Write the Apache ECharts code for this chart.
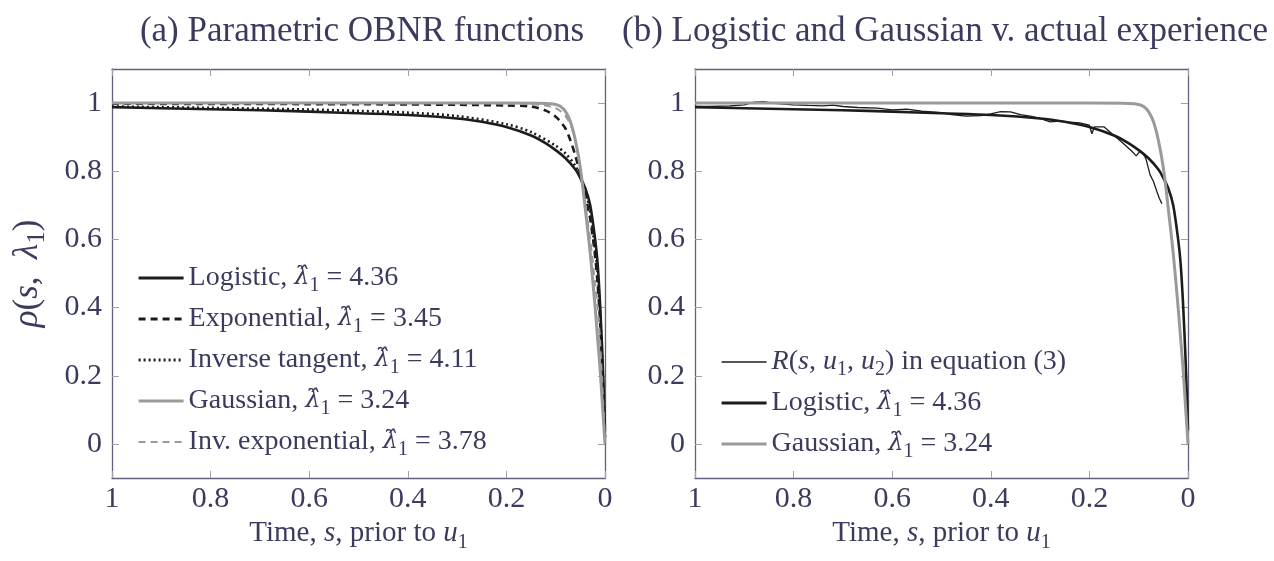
<!DOCTYPE html>
<html>
<head>
<meta charset="utf-8">
<script src="https://cdn.jsdelivr.net/npm/echarts@6/dist/echarts.min.js"></script>
<style>html,body{margin:0;padding:0;background:#fff}#c{width:1274px;height:561px}</style>
</head>
<body>
<div id="c"></div>
<script>
// ---- data: [s, rho] pairs ----
const logistic = [[1,0.988],[0.9,0.985],[0.8,0.982],[0.7,0.979],[0.6,0.975],[0.5,0.97],[0.4,0.965],[0.3,0.955],[0.25,0.945],[0.2,0.93],[0.15,0.905],[0.12,0.882],[0.1,0.862],[0.08,0.838],[0.06,0.805],[0.05,0.78],[0.04,0.75],[0.03,0.70],[0.02,0.60],[0.015,0.53],[0.01,0.41],[0.005,0.25],[0,0.04]];
const exponential = [[1,0.998],[0.6,0.997],[0.4,0.996],[0.3,0.995],[0.2,0.993],[0.15,0.99],[0.12,0.978],[0.1,0.96],[0.09,0.945],[0.08,0.925],[0.07,0.89],[0.06,0.845],[0.05,0.79],[0.04,0.73],[0.03,0.66],[0.02,0.55],[0.015,0.47],[0.01,0.36],[0.005,0.2],[0,0.01]];
const invTangent = [[1,0.99],[0.8,0.986],[0.6,0.981],[0.5,0.977],[0.4,0.972],[0.3,0.962],[0.2,0.938],[0.15,0.915],[0.1,0.875],[0.08,0.852],[0.06,0.815],[0.05,0.785],[0.04,0.745],[0.03,0.68],[0.02,0.57],[0.015,0.5],[0.01,0.38],[0.005,0.22],[0,0.02]];
const gaussian = [[1,1.0],[0.2,1.0],[0.12,0.999],[0.1,0.996],[0.09,0.99],[0.08,0.975],[0.07,0.945],[0.06,0.89],[0.05,0.81],[0.04,0.69],[0.03,0.56],[0.02,0.40],[0.015,0.31],[0.01,0.22],[0.005,0.11],[0,0]];
const invExponential = [[1,1.0],[0.3,1.0],[0.2,0.999],[0.15,0.997],[0.12,0.993],[0.1,0.985],[0.09,0.976],[0.08,0.962],[0.07,0.937],[0.06,0.89],[0.05,0.81],[0.04,0.70],[0.03,0.6],[0.02,0.47],[0.015,0.4],[0.01,0.3],[0.005,0.16],[0,0.01]];
const empirical = [[1,0.99],[0.97,0.99],[0.93,0.992],[0.9,0.995],[0.88,1.003],[0.86,1.004],[0.84,0.999],[0.8,0.995],[0.77,0.993],[0.74,0.992],[0.72,0.994],[0.7,0.99],[0.67,0.987],[0.63,0.985],[0.6,0.98],[0.57,0.982],[0.54,0.976],[0.5,0.972],[0.48,0.966],[0.45,0.962],[0.42,0.963],[0.4,0.968],[0.38,0.975],[0.36,0.974],[0.34,0.966],[0.32,0.962],[0.3,0.955],[0.28,0.945],[0.26,0.947],[0.24,0.944],[0.22,0.942],[0.2,0.935],[0.195,0.91],[0.19,0.93],[0.17,0.93],[0.15,0.905],[0.13,0.88],[0.115,0.86],[0.105,0.845],[0.097,0.86],[0.09,0.85],[0.085,0.835],[0.077,0.79],[0.07,0.77],[0.063,0.74],[0.058,0.72],[0.053,0.705]];
const yTicks = [0, 0.2, 0.4, 0.6, 0.8, 1];
const titles = ['(a) Parametric OBNR functions', '(b) Logistic and Gaussian v. actual experience'];

const FONT = "'Liberation Serif','DejaVu Serif',serif";
const TXT = '#3b3b5e';
const AX = '#60607f';
const TICK = '#a0a0a8';
const BLACK = '#1c1c1c';
const GRAY = '#9a9a9a';

const mathRich = (fs, lh) => ({
  t: {fontFamily: FONT, fontSize: fs, color: TXT, lineHeight: lh},
  i: {fontFamily: FONT, fontSize: fs, color: TXT, fontStyle: 'italic', lineHeight: lh},
  h: {fontFamily: "'DejaVu Serif'", fontSize: Math.round(fs * 0.85), color: TXT, fontStyle: 'italic', lineHeight: lh},
  s: {fontFamily: FONT, fontSize: Math.round(fs * 0.7), color: TXT, lineHeight: 3, verticalAlign: 'bottom'}
});

const legendLabels = {
  L: '{t|Logistic, }{h|λ̂}{s|1}{t| = 4.36}',
  E: '{t|Exponential, }{h|λ̂}{s|1}{t| = 3.45}',
  I: '{t|Inverse tangent, }{h|λ̂}{s|1}{t| = 4.11}',
  G: '{t|Gaussian, }{h|λ̂}{s|1}{t| = 3.24}',
  V: '{t|Inv. exponential, }{h|λ̂}{s|1}{t| = 3.78}',
  R: '{i|R}{t|(}{i|s}{t|, }{i|u}{s|1}{t|, }{i|u}{s|2}{t|) in equation (3)}',
  L2: '{t|Logistic, }{h|λ̂}{s|1}{t| = 4.36}',
  G2: '{t|Gaussian, }{h|λ̂}{s|1}{t| = 3.24}'
};

const grids = [
  {left: 112, right: 669, top: 69, bottom: 83},
  {left: 695, right: 86, top: 69, bottom: 83}
];

const xAxes = [], yAxes = [];
grids.forEach((g, gi) => {
  xAxes.push({
    type: 'value', gridIndex: gi, min: 0, max: 1, interval: 0.2, inverse: true, position: 'bottom',
    axisLine: {onZero: false, lineStyle: {color: AX, width: 1.3}},
    axisTick: {inside: true, length: 7, lineStyle: {color: TICK, width: 1}},
    axisLabel: {fontFamily: FONT, fontSize: 30, color: TXT, margin: 6},
    splitLine: {show: false},
    name: '{t|Time, }{i|s}{t|, prior to }{i|u}{s|1}', nameLocation: 'middle', nameGap: 33,
    nameTextStyle: {rich: mathRich(29, 38)}
  });
  xAxes.push({
    type: 'value', gridIndex: gi, min: 0, max: 1, interval: 0.2, inverse: true, position: 'top',
    axisLine: {onZero: false, lineStyle: {color: AX, width: 1.3}},
    axisTick: {inside: true, length: 7, lineStyle: {color: TICK, width: 1}},
    axisLabel: {show: false}, splitLine: {show: false}
  });
  yAxes.push({
    type: 'value', gridIndex: gi, min: -0.1, max: 1.1, position: 'left',
    axisLine: {show: true, onZero: false, lineStyle: {color: AX, width: 1.3}},
    axisTick: {show: true, inside: true, length: 7, customValues: yTicks, lineStyle: {color: TICK, width: 1}},
    axisLabel: {fontFamily: FONT, fontSize: 30, color: TXT, margin: 10, customValues: yTicks},
    splitLine: {show: false},
    name: gi === 0 ? '{i|ρ}{t|(}{i|s}{t|,  }{i|λ}{s|1}{t|)}' : '', nameLocation: 'middle', nameGap: 62,
    nameTextStyle: {rich: mathRich(35, 44)}
  });
  yAxes.push({
    type: 'value', gridIndex: gi, min: -0.1, max: 1.1, position: 'right',
    axisLine: {show: true, onZero: false, lineStyle: {color: AX, width: 1.3}},
    axisTick: {show: true, inside: true, length: 7, customValues: yTicks, lineStyle: {color: TICK, width: 1}},
    axisLabel: {show: false}, splitLine: {show: false}
  });
});

function line(name, data, gi, color, width, type) {
  return {
    name, type: 'line', data, xAxisIndex: gi * 2, yAxisIndex: gi * 2,
    symbol: 'none', smooth: 0.3, animation: false,
    lineStyle: {color, width, type: type || 'solid'}, itemStyle: {color}
  };
}

const series = [
  line('L', logistic, 0, BLACK, 2.6),
  line('E', exponential, 0, BLACK, 2.6, [7, 5]),
  line('I', invTangent, 0, BLACK, 2.6, [2, 3]),
  line('G', gaussian, 0, GRAY, 3),
  line('V', invExponential, 0, GRAY, 2, [7, 5]),
  line('R', empirical, 1, BLACK, 1.3),
  line('L2', logistic, 1, BLACK, 2.6),
  line('G2', gaussian, 1, GRAY, 3)
];
series[5].smooth = false;

const legendWidths = {L: 3, E: 3, I: 3, G: 3.2, V: 2.2, R: 1.4, L2: 3, G2: 3.2};
const legendItems = names => names.map(n => ({name: n, lineStyle: {width: legendWidths[n]}}));

const legendCommon = {
  orient: 'vertical', padding: 0, itemWidth: 45, itemHeight: 14, itemGap: 5,
  selectedMode: false,
  itemStyle: {color: 'rgba(0,0,0,0)', borderColor: 'rgba(0,0,0,0)', borderWidth: 0, opacity: 0},
  formatter: n => legendLabels[n],
  textStyle: {lineHeight: 36, rich: mathRich(28, 36)}
};

const option = {
  backgroundColor: '#fff',
  animation: false,
  title: titles.map((t, i) => ({
    text: t, left: i === 0 ? 357 : 940, top: 9, textAlign: 'center',
    textStyle: {fontFamily: FONT, fontSize: 35, fontWeight: 'normal', color: TXT}
  })),
  grid: grids,
  xAxis: xAxes,
  yAxis: yAxes,
  legend: [
    Object.assign({}, legendCommon, {data: legendItems(['L', 'E', 'I', 'G', 'V']), left: 137, top: 260}),
    Object.assign({}, legendCommon, {data: legendItems(['R', 'L2', 'G2']), left: 720, top: 344})
  ],
  series
};

const chart = echarts.init(document.getElementById('c'), null, {renderer: 'canvas'});
chart.setOption(option);
</script>
</body>
</html>
